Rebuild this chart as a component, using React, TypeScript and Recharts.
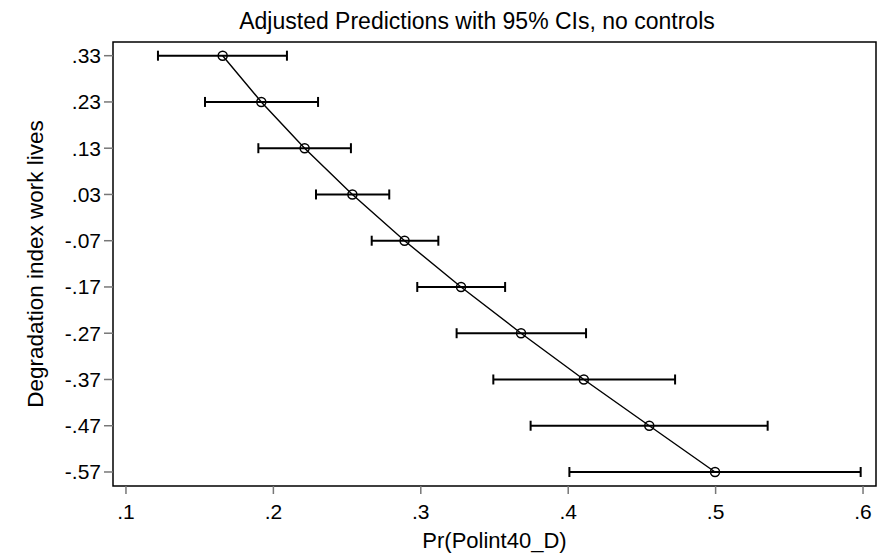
import {
  ErrorBar,
  ReferenceArea,
  Scatter,
  ScatterChart,
  XAxis,
  YAxis,
} from "recharts";

// degradation index levels (y) and predicted Pr with 95% CI bounds
const levels = [0.33, 0.23, 0.13, 0.03, -0.07, -0.17, -0.27, -0.37, -0.47, -0.57];
const pred = [0.1656, 0.1918, 0.2212, 0.2536, 0.289, 0.3273, 0.368, 0.4106, 0.455, 0.4996];
const ciLow = [0.1217, 0.1536, 0.1898, 0.2289, 0.2667, 0.2976, 0.3243, 0.3492, 0.3745, 0.4008];
const ciHigh = [0.2092, 0.2303, 0.2526, 0.2786, 0.3119, 0.3572, 0.4121, 0.4725, 0.5353, 0.5984];
const xTicks = [0.1, 0.2, 0.3, 0.4, 0.5, 0.6];

const rows = levels.map((y, i) => ({
  y,
  x: pred[i],
  err: [pred[i] - ciLow[i], ciHigh[i] - pred[i]],
}));

const xDomain = [0.0912, 0.6088];
const yDomain = [-0.6003, 0.3596];
const font = "'Liberation Sans', Arial, sans-serif";

// stata style: .33, -.57
const fmt = (v: number) => v.toFixed(2).replace(/^(-?)0\./, "$1.").replace(/^(-?\.\d)0$/, "$1");

const Ring = (p: any) => (
  <circle cx={p.cx} cy={p.cy} r={4.5} fill="none" stroke="#000" strokeWidth={1.5} />
);

export default function App() {
  return (
    <div style={{ position: "relative", width: 878, height: 546, fontFamily: font }}>
      <div
        style={{
          position: "absolute",
          top: 0,
          left: 0,
          width: 938,
          textAlign: "center",
          fontSize: 23,
          lineHeight: "26px",
          color: "#000",
        }}
      >
        Adjusted Predictions with 95% CIs, no controls
      </div>
      <ScatterChart
        width={878}
        height={546}
        margin={{ top: 34, right: 10, left: 5, bottom: 18 }}
        style={{ fontFamily: font }}
      >
        <XAxis
          type="number"
          dataKey="x"
          domain={xDomain}
          ticks={xTicks}
          allowDataOverflow
          height={50}
          axisLine={false}
          tickSize={8}
          tickMargin={10}
          tickLine={{ stroke: "#777", strokeWidth: 1.5 }}
          tick={{ fill: "#000", fontSize: 21 }}
          tickFormatter={fmt}
          label={{
            value: "Pr(Polint40_D)",
            position: "insideBottom",
            offset: -12,
            fill: "#000",
            fontSize: 22,
          }}
        />
        <YAxis
          type="number"
          dataKey="y"
          domain={yDomain}
          ticks={levels}
          allowDataOverflow
          width={100}
          axisLine={false}
          tickSize={9}
          tickMargin={3}
          tickLine={{ stroke: "#777", strokeWidth: 1.5 }}
          tick={{ fill: "#000", fontSize: 21 }}
          tickFormatter={fmt}
          label={{
            value: "Degradation index work lives",
            angle: -90,
            position: "insideLeft",
            offset: 22,
            fill: "#000",
            fontSize: 22.5,
            style: { textAnchor: "middle" },
          }}
        />
        <ReferenceArea
          x1={xDomain[0]}
          x2={xDomain[1]}
          y1={yDomain[0]}
          y2={yDomain[1]}
          fill="none"
          stroke="#000"
          strokeWidth={1.5}
          ifOverflow="visible"
        />
        <Scatter
          data={rows}
          dataKey="y"
          shape={Ring}
          line={{ stroke: "#000", strokeWidth: 1.4 }}
          lineType="joint"
          isAnimationActive={false}
        >
          <ErrorBar dataKey="err" direction="x" width={5} stroke="#000" strokeWidth={2} />
        </Scatter>
      </ScatterChart>
    </div>
  );
}
